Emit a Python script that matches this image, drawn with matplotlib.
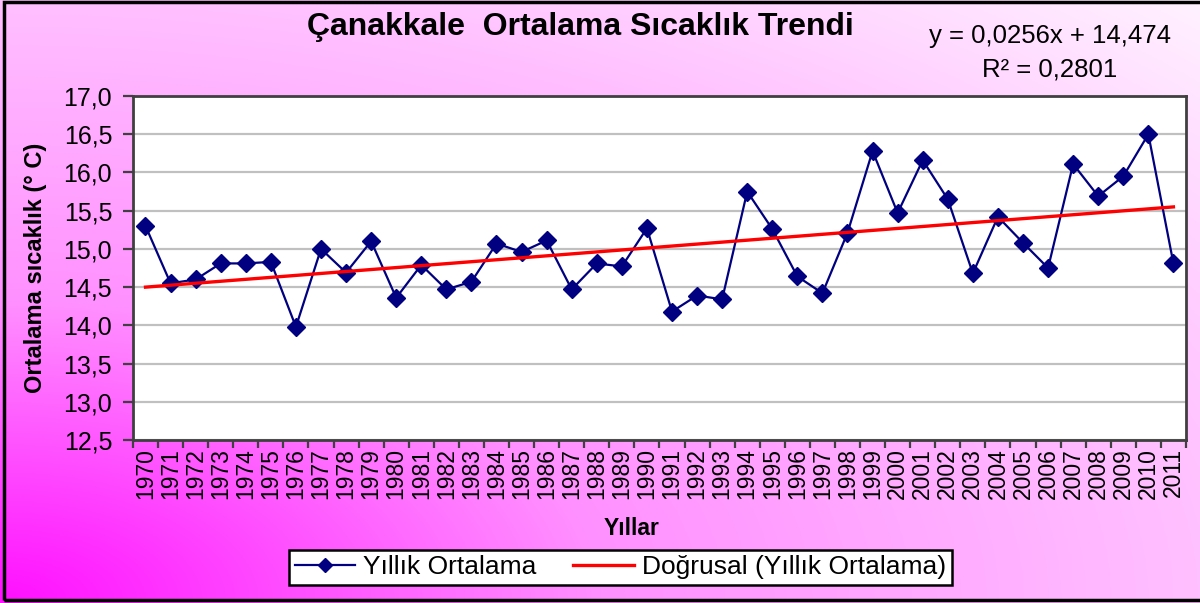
import numpy as np
import matplotlib
matplotlib.use('Agg')
import matplotlib.pyplot as plt
from matplotlib.patches import Rectangle
from matplotlib.lines import Line2D

plt.rcParams['font.family'] = ['Liberation Sans', 'DejaVu Sans']

# data
years = list(range(1970, 2012))
temps = [15.30, 14.55, 14.60, 14.81, 14.81, 14.83, 13.98, 15.00, 14.69, 15.10,
         14.36, 14.79, 14.47, 14.57, 15.07, 14.96, 15.11, 14.47, 14.81, 14.77,
         15.27, 14.18, 14.39, 14.34, 15.75, 15.26, 14.64, 14.42, 15.21, 16.28,
         15.47, 16.16, 15.65, 14.68, 15.42, 15.08, 14.75, 16.11, 15.69, 15.95,
         16.50, 14.81]
trend_slope = 0.0256
trend_intercept = 14.474
r_squared = 0.2801

title = 'Çanakkale  Ortalama Sıcaklık Trendi'
ylabel = 'Ortalama sıcaklık (° C)'
xlabel = 'Yıllar'
series_label = 'Yıllık Ortalama'
trend_label = 'Doğrusal (Yıllık Ortalama)'

fig = plt.figure(figsize=(12, 6.03), dpi=100)

# gradient background (magenta bottom-left -> pale pink top-right)
bg = fig.add_axes([0, 0, 1, 1], zorder=-10)
gx, gy = np.meshgrid(np.linspace(0, 1, 400), np.linspace(0, 1, 200))
d = np.sqrt(gx ** 2 + gy ** 2) / np.sqrt(2)
g = np.interp(d, [0, 0.354, 0.707, 1.0], [16, 144, 192, 242]) / 255.0
img = np.dstack([np.ones_like(g), g, np.ones_like(g)])
bg.imshow(img, origin='lower', extent=[0, 1, 0, 1], aspect='auto')
bg.set_xlim(0, 1)
bg.set_ylim(0, 1)
bg.axis('off')

ax = fig.add_axes([0.1108, 0.2703, 0.8775, 0.5705])
ax.set_facecolor('white')

x = np.arange(1, len(years) + 1)
ax.plot(x, temps, color='#000080', lw=1.6, marker='D', ms=9,
        markerfacecolor='#000080', markeredgecolor='#000080', zorder=3)
tx = np.array([x[0], x[-1]])
ax.plot(tx, trend_slope * tx + trend_intercept, color='#ff0000', lw=2.4, zorder=4)

ax.set_xlim(0.5, len(years) + 0.5)
ax.set_ylim(12.5, 17.0)
ax.set_yticks(np.arange(12.5, 17.01, 0.5))
ax.set_yticklabels([('%.1f' % v).replace('.', ',') for v in np.arange(12.5, 17.01, 0.5)])
ax.yaxis.grid(True, color='#c0c0c0', lw=1.6)
ax.set_axisbelow(True)

ax.set_xticks(np.arange(0.5, len(years) + 1, 1.0))
ax.set_xticklabels([])
ax.set_xticks(x, minor=True)
ax.set_xticklabels([str(y) for y in years], minor=True, rotation=90)
ax.tick_params(axis='x', which='minor', length=0, pad=6, labelsize=16.5)
ax.tick_params(axis='x', which='major', length=6, width=1.6, color='#404040',
               direction='out')
ax.tick_params(axis='y', length=7, width=1.6, color='#404040', direction='out',
               labelsize=18, pad=8)

for s in ax.spines.values():
    s.set_color('#404040')
    s.set_linewidth(2)

ax.set_ylabel(ylabel, fontsize=17, fontweight='bold')
ax.yaxis.set_label_coords(-0.082, 0.5)

fig.text(0.526, 0.124, xlabel, fontsize=16.5, fontweight='bold',
         ha='center', va='center')
fig.text(0.484, 0.955, title, fontsize=23, fontweight='bold',
         ha='center', va='center')
fig.text(0.875, 0.94, 'y = 0,0256x + 14,474', fontsize=18.5,
         ha='center', va='center')
fig.text(0.875, 0.884, 'R² = ' + ('%.4f' % r_squared).replace('.', ','),
         fontsize=18.5, ha='center', va='center')

handles = [Line2D([], [], color='#000080', lw=1.6, marker='D', ms=7),
           Line2D([], [], color='#ff0000', lw=2.4)]
leg = fig.legend(handles, [series_label, trend_label], ncol=2,
                 loc='center', bbox_to_anchor=(0.517, 0.059),
                 fontsize=19, frameon=True, fancybox=False, shadow=False,
                 handlelength=2.3, handletextpad=0.3, columnspacing=1.4,
                 borderpad=0.2, borderaxespad=0)
leg.get_frame().set_edgecolor('black')
leg.get_frame().set_linewidth(1.8)
leg.get_frame().set_facecolor('white')
leg.get_frame().set_alpha(1)

fig.patches.append(Rectangle((4 / 1200, 3 / 603), 1.1, 1 - 5 / 603,
                             transform=fig.transFigure, fill=False,
                             edgecolor='black', lw=2.5, zorder=10))

fig.savefig('out.png', dpi=100)
